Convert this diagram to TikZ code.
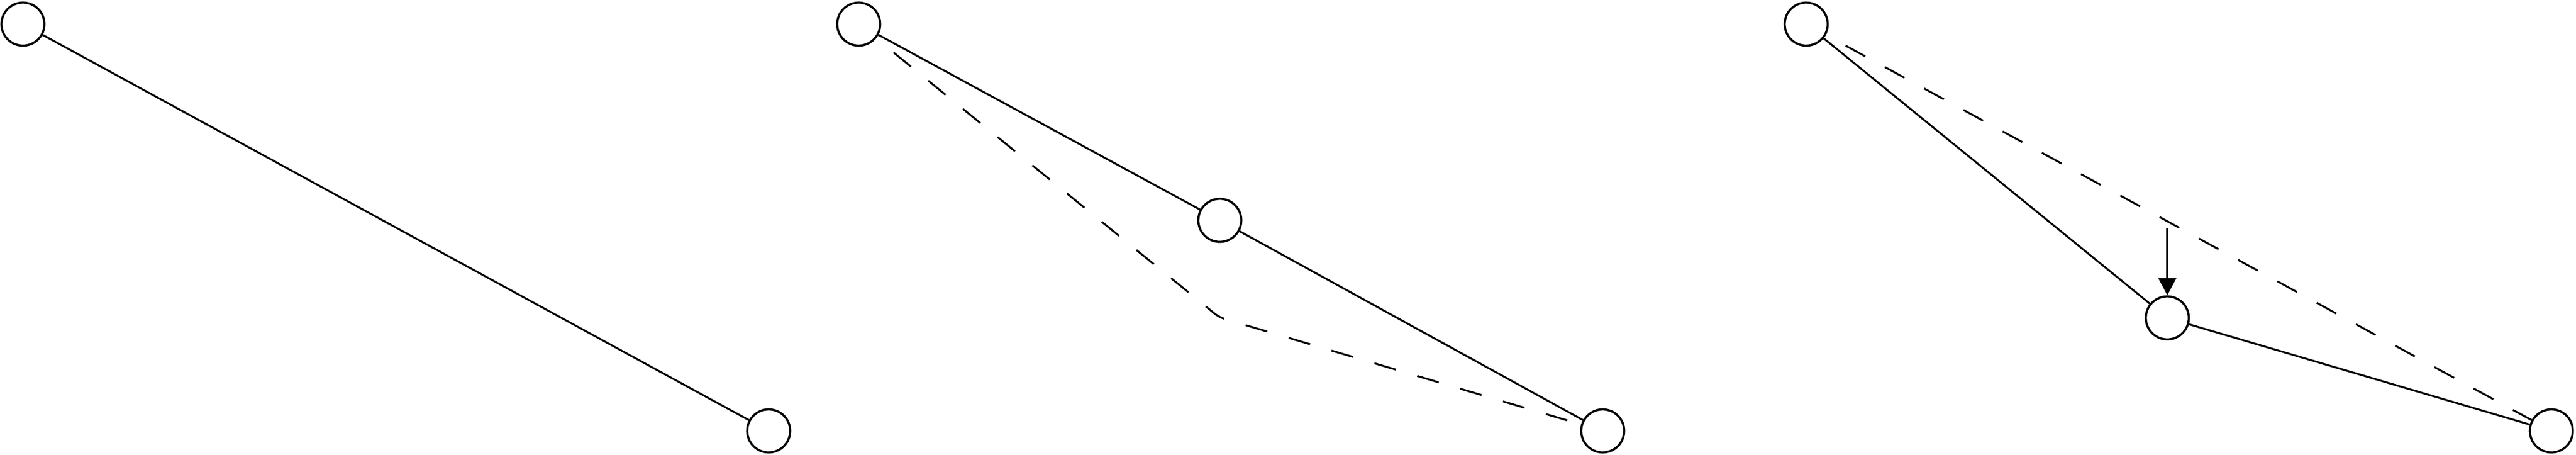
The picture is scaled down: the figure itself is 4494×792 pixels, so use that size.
\documentclass[tikz,border=0pt]{standalone}
\usetikzlibrary{arrows.meta}
\begin{document}
\begin{tikzpicture}[x=0.2pt,y=-0.2pt,
  vtx/.style={circle,draw,line width=0.75pt,minimum size=15pt,inner sep=0pt,fill=white},
  edge/.style={line width=0.65pt},
  dashedge/.style={line width=0.65pt,dash pattern=on 7.8pt off 7.8pt,dash phase=7.8pt},
  move/.style={line width=0.65pt,-{Triangle[length=6pt,width=6.2pt]}}]
\useasboundingbox (0,0) rectangle (4494,792);
% panel 1
\node[vtx] (a1) at (40,42) {};
\node[vtx] (b1) at (1341,751) {};
\draw[edge] (a1) -- (b1);
% panel 2
\node[vtx] (a2) at (1498,42) {};
\node[vtx] (m2) at (2128,384) {};
\node[vtx] (b2) at (2796,751) {};
\coordinate (c2) at (2127,553);
\draw[edge] (a2) -- (m2);
\draw[edge] (m2) -- (b2);
\draw[dashedge,rounded corners=2pt] (a2) -- (c2) -- (b2);
% panel 3
\node[vtx] (a3) at (3151,42) {};
\node[vtx] (m3) at (3781,554) {};
\node[vtx] (b3) at (4451,751) {};
\coordinate (s3) at (3781,398);
\draw[edge] (a3) -- (m3);
\draw[edge] (m3) -- (b3);
\draw[dashedge] (a3) -- (b3);
\draw[move] (s3) -- (m3);
\end{tikzpicture}
\end{document}
